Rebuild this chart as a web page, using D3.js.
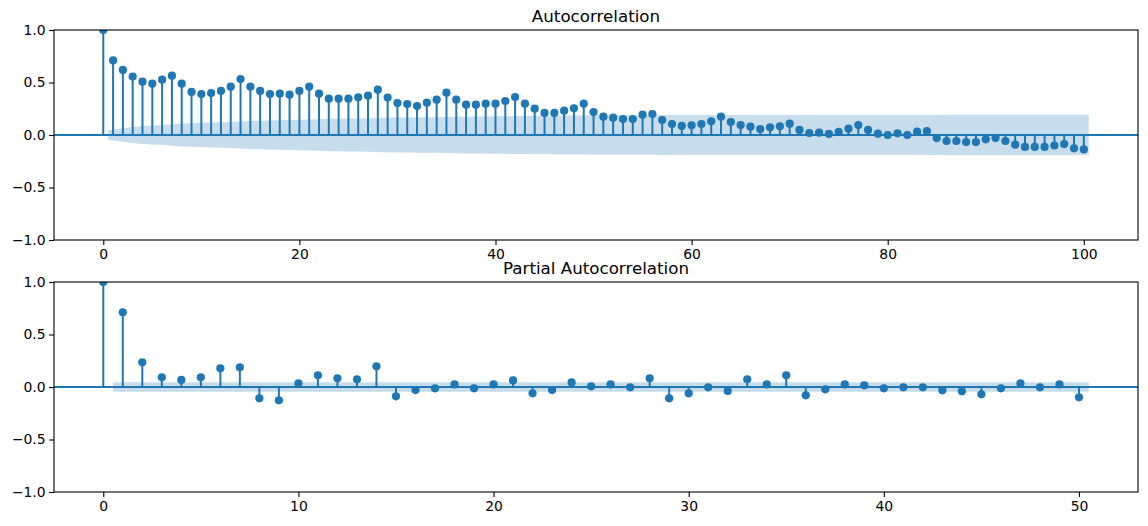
<!DOCTYPE html>
<html>
<head>
<meta charset="utf-8">
<script src="https://cdn.jsdelivr.net/npm/d3@7"></script>
<style>
  body { margin: 0; background: #fff; }
  svg { display: block; font-family: "DejaVu Sans", sans-serif; }
</style>
</head>
<body>
<svg id="chart" width="1148" height="526"></svg>
<script>
// autocorrelation, lags 0..100
const acfValues = [
  1.0, 0.71, 0.62, 0.556, 0.508, 0.489, 0.527, 0.565, 0.489, 0.41,
  0.39, 0.40, 0.42, 0.46, 0.533, 0.46, 0.42, 0.39, 0.394, 0.384,
  0.42, 0.46, 0.394, 0.346, 0.346, 0.346, 0.359, 0.375, 0.432, 0.356,
  0.305, 0.295, 0.276, 0.308, 0.336, 0.403, 0.336, 0.289, 0.289, 0.298,
  0.298, 0.324, 0.362, 0.298, 0.251, 0.21, 0.21, 0.232, 0.254, 0.298,
  0.219, 0.175, 0.165, 0.152, 0.152, 0.194, 0.2, 0.143, 0.105, 0.086,
  0.092, 0.105, 0.13, 0.175, 0.124, 0.095, 0.079, 0.057, 0.073, 0.083,
  0.108, 0.048, 0.019, 0.022, 0.01, 0.029, 0.06, 0.095, 0.048, 0.013,
  0.0, 0.016, 0.0, 0.032, 0.038, -0.029, -0.057, -0.057, -0.067, -0.067,
  -0.041, -0.029, -0.057, -0.092, -0.114, -0.114, -0.114, -0.10, -0.086, -0.127,
  -0.137
];

// confidence band half-width for lags 1..100
const acfBand = [
  0.046, 0.065, 0.077, 0.085, 0.091, 0.096, 0.102, 0.109, 0.113, 0.116,
  0.119, 0.122, 0.125, 0.128, 0.133, 0.136, 0.139, 0.141, 0.144, 0.146,
  0.148, 0.151, 0.154, 0.155, 0.157, 0.158, 0.160, 0.162, 0.164, 0.166,
  0.167, 0.168, 0.169, 0.170, 0.172, 0.174, 0.175, 0.176, 0.177, 0.178,
  0.179, 0.181, 0.182, 0.183, 0.184, 0.184, 0.185, 0.185, 0.186, 0.187,
  0.188, 0.188, 0.188, 0.189, 0.189, 0.189, 0.190, 0.190, 0.190, 0.190,
  0.190, 0.190, 0.190, 0.190, 0.190, 0.190, 0.190, 0.190, 0.190, 0.190,
  0.191, 0.191, 0.191, 0.191, 0.191, 0.191, 0.191, 0.191, 0.191, 0.191,
  0.191, 0.191, 0.191, 0.191, 0.191, 0.192, 0.192, 0.192, 0.192, 0.192,
  0.192, 0.192, 0.192, 0.192, 0.192, 0.193, 0.193, 0.193, 0.193, 0.193
];

// partial autocorrelation, lags 0..50
const pacfValues = [
  1.0, 0.711, 0.235, 0.092, 0.067, 0.092, 0.178, 0.187, -0.108, -0.127,
  0.035, 0.111, 0.083, 0.073, 0.197, -0.089, -0.029, -0.013, 0.025, -0.013,
  0.025, 0.063, -0.06, -0.029, 0.044, 0.006, 0.025, -0.003, 0.083, -0.108,
  -0.06, -0.003, -0.038, 0.073, 0.025, 0.111, -0.079, -0.022, 0.025, 0.016,
  -0.013, -0.003, -0.003, -0.032, -0.041, -0.07, -0.013, 0.035, -0.003, 0.025,
  -0.098
];
const pacfBand = pacfValues.slice(1).map(() => 0.046);

const acfTicks = [0, 20, 40, 60, 80, 100];
const pacfTicks = [0, 10, 20, 30, 40, 50];
const yTicks = [-1.0, -0.5, 0.0, 0.5, 1.0];

const blue = "#1f77b4";
const svg = d3.select("#chart");

function panel({ title, values, band, ticks, top, bottom }) {
  const left = 54, right = 1138;
  const n = values.length - 1;
  const pad = (n + 0.5) * 0.05;
  const x = d3.scaleLinear().domain([-pad, n + 0.5 + pad]).range([left, right]);
  const y = d3.scaleLinear().domain([-1, 1]).range([bottom, top]);

  const g = svg.append("g");
  const clipId = "clip" + top;
  g.append("clipPath").attr("id", clipId)
    .append("rect").attr("x", left).attr("y", top)
    .attr("width", right - left).attr("height", bottom - top);

  const plot = g.append("g").attr("clip-path", `url(#${clipId})`);

  // band: lags 1..n, first/last stretched by half a lag
  const bandPts = band.map((h, i) => {
    let lag = i + 1;
    if (i === 0) lag -= 0.5;
    if (i === band.length - 1) lag += 0.5;
    return { lag, h };
  });
  plot.append("path")
    .datum(bandPts)
    .attr("fill", blue).attr("fill-opacity", 0.25)
    .attr("d", d3.area().x(d => x(d.lag)).y0(d => y(-d.h)).y1(d => y(d.h)));

  plot.selectAll("line.stem").data(values).join("line")
    .attr("class", "stem")
    .attr("x1", (d, i) => x(i)).attr("x2", (d, i) => x(i))
    .attr("y1", y(0)).attr("y2", d => y(d))
    .attr("stroke", blue).attr("stroke-width", 2);

  plot.append("line")
    .attr("x1", left).attr("x2", right)
    .attr("y1", y(0)).attr("y2", y(0))
    .attr("stroke", blue).attr("stroke-width", 2);

  plot.selectAll("circle").data(values).join("circle")
    .attr("cx", (d, i) => x(i)).attr("cy", d => y(d))
    .attr("r", 4.1).attr("fill", blue);

  const xAxis = g.append("g").attr("transform", `translate(0,${bottom})`)
    .call(d3.axisBottom(x).tickValues(ticks).tickSize(4.9).tickPadding(4.5).tickFormat(d3.format("d")));
  const yAxis = g.append("g").attr("transform", `translate(${left},0)`)
    .call(d3.axisLeft(y).tickValues(yTicks).tickSize(4.9).tickPadding(3.5).tickFormat(d3.format(".1f")));
  [xAxis, yAxis].forEach(a => {
    a.select(".domain").remove();
    a.selectAll("line").attr("stroke", "#000").attr("stroke-width", 1.1);
    a.selectAll("text").attr("fill", "#000")
      .style("font-family", "DejaVu Sans, sans-serif").style("font-size", "13.9px");
  });
  yAxis.selectAll("text").text(d => d3.format(".1f")(d).replace("-", "\u2212"));

  g.append("rect")
    .attr("x", left).attr("y", top)
    .attr("width", right - left).attr("height", bottom - top)
    .attr("fill", "none").attr("stroke", "#000").attr("stroke-width", 1.1);

  g.append("text")
    .attr("x", (left + right) / 2).attr("y", top - 8.3)
    .attr("text-anchor", "middle")
    .style("font-size", "16.7px").attr("fill", "#000")
    .text(title);
}

panel({ title: "Autocorrelation", values: acfValues, band: acfBand, ticks: acfTicks, top: 30, bottom: 240 });
panel({ title: "Partial Autocorrelation", values: pacfValues, band: pacfBand, ticks: pacfTicks, top: 282, bottom: 492 });
</script>
</body>
</html>
